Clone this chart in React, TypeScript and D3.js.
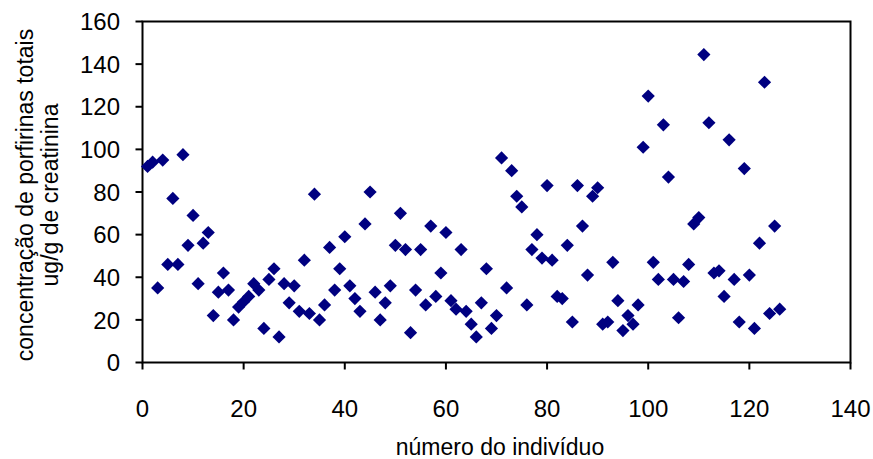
import React from "react";
import * as d3 from "d3";

const individuals = [
  1, 2, 3, 4, 5, 6, 7, 8, 9, 10, 11, 12, 13, 14, 15, 16, 17, 18, 19, 20,
  21, 22, 23, 24, 25, 26, 27, 28, 29, 30, 31, 32, 33, 34, 35, 36, 37, 38, 39, 40,
  41, 42, 43, 44, 45, 46, 47, 48, 49, 50, 51, 52, 53, 54, 55, 56, 57, 58, 59, 60,
  61, 62, 63, 64, 65, 66, 67, 68, 69, 70, 71, 72, 73, 74, 75, 76, 77, 78, 79, 80,
  81, 82, 83, 84, 85, 86, 87, 88, 89, 90, 91, 92, 93, 94, 95, 96, 97, 98, 99, 100,
  101, 102, 103, 104, 105, 106, 107, 108, 109, 110, 111, 112, 113, 114, 115, 116, 117, 118, 119, 120,
  121, 122, 123, 124, 125, 126,
];

const porphyrins = [
  92, 94, 35, 95, 46, 77, 46, 97.5, 55, 69,
  37, 56, 61, 22, 33, 42, 34, 20, 26, 28.5,
  31, 37, 34, 16, 39, 44, 12, 37, 28, 36,
  24, 48, 23, 79, 20, 27, 54, 34, 44, 59,
  36, 30, 24, 65, 80, 33, 20, 28, 36, 55,
  70, 53, 14, 34, 53, 27, 64, 31, 42, 61,
  29, 25, 53, 24, 18, 12, 28, 44, 16, 22,
  96, 35, 90, 78, 73, 27, 53, 60, 49, 83,
  48, 31, 30, 55, 19, 83, 64, 41, 78, 82,
  18, 19, 47, 29, 15, 22, 18, 27, 101, 125,
  47, 39, 111.5, 87, 39, 21, 38, 46, 65, 68,
  144.5, 112.5, 42, 43, 31, 104.5, 39, 19, 91, 41,
  16, 56, 131.5, 23, 64, 25,
];

const xTicks = [0, 20, 40, 60, 80, 100, 120, 140];
const yTicks = [0, 20, 40, 60, 80, 100, 120, 140, 160];

const xTitle = "número do indivíduo";
const yTitle1 = "concentração de porfirinas totais";
const yTitle2 = "ug/g de creatinina";

const W = 873;
const H = 459;
const left = 142.5;
const right = 850.5;
const top = 21.5;
const bottom = 362.5;
const FONT = "'Liberation Sans', Arial, sans-serif";

export default function App() {
  const x = d3.scaleLinear().domain([0, 140]).range([left, right]);
  const y = d3.scaleLinear().domain([0, 160]).range([bottom, top]);
  const r = 6.6;
  const diamond = (cx: number, cy: number) =>
    `M${cx},${cy - r}L${cx + r},${cy}L${cx},${cy + r}L${cx - r},${cy}Z`;

  return (
    <svg
      width={W}
      height={H}
      style={{ position: "absolute", left: 0, top: 0, background: "#fff" }}
    >
      <rect x={0} y={0} width={W} height={H} fill="#fff" />
      {/* plot frame */}
      <rect
        x={left}
        y={top}
        width={right - left}
        height={bottom - top}
        fill="none"
        stroke="#000"
        strokeWidth={2}
      />
      {/* y ticks */}
      {yTicks.map((t) => (
        <g key={"y" + t}>
          <line x1={left - 7} x2={left} y1={y(t)} y2={y(t)} stroke="#000" strokeWidth={2} />
          <text
            x={120}
            y={y(t)}
            dy="0.36em"
            textAnchor="end"
            fontFamily={FONT}
            fontSize={24}
            fill="#000"
          >
            {t}
          </text>
        </g>
      ))}
      {/* x ticks */}
      {xTicks.map((t) => (
        <g key={"x" + t}>
          <line x1={x(t)} x2={x(t)} y1={bottom} y2={bottom + 7} stroke="#000" strokeWidth={2} />
          <text
            x={x(t)}
            y={417}
            textAnchor="middle"
            fontFamily={FONT}
            fontSize={24}
            fill="#000"
          >
            {t}
          </text>
        </g>
      ))}
      {/* axis titles */}
      <text
        x={500}
        y={455}
        textAnchor="middle"
        fontFamily={FONT}
        fontSize={23}
        fill="#000"
      >
        {xTitle}
      </text>
      <g transform={`translate(33,195) rotate(-90)`}>
        <text x={0} y={0} textAnchor="middle" fontFamily={FONT} fontSize={23} fill="#000">
          {yTitle1}
        </text>
        <text x={0} y={25} textAnchor="middle" fontFamily={FONT} fontSize={23} fill="#000">
          {yTitle2}
        </text>
      </g>
      {/* points */}
      {individuals.map((id, i) => (
        <path key={id} d={diamond(x(id), y(porphyrins[i]))} fill="#000080" />
      ))}
    </svg>
  );
}
